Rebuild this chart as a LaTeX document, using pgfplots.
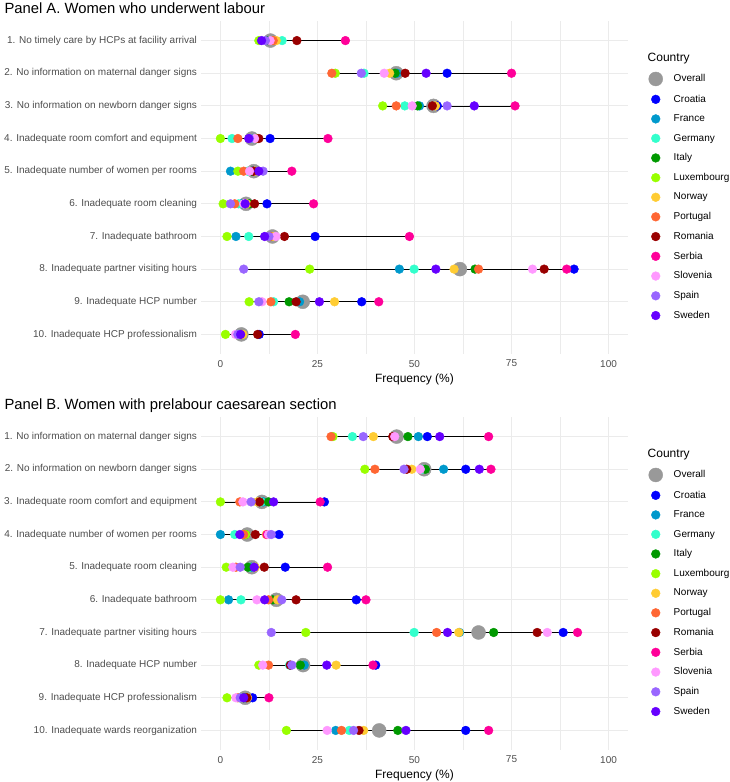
\documentclass[border=0pt]{standalone}
\usepackage{pgfplots}
\pgfplotsset{compat=1.18}
\usepackage{pgfplotstable}
\usepackage{fontspec}
\setmainfont{Liberation Sans}

\definecolor{cOverall}{HTML}{999999}
\definecolor{cCroatia}{HTML}{0000FF}
\definecolor{cFrance}{HTML}{0099CC}
\definecolor{cGermany}{HTML}{33FFCC}
\definecolor{cItaly}{HTML}{009900}
\definecolor{cLuxembourg}{HTML}{99FF00}
\definecolor{cNorway}{HTML}{FFCC33}
\definecolor{cPortugal}{HTML}{FF6633}
\definecolor{cRomania}{HTML}{990000}
\definecolor{cSerbia}{HTML}{FF0099}
\definecolor{cSlovenia}{HTML}{FF99FF}
\definecolor{cSpain}{HTML}{9966FF}
\definecolor{cSweden}{HTML}{6600FF}
\definecolor{gridc}{HTML}{EBEBEB}
\definecolor{txtgray}{HTML}{4D4D4D}

\pgfplotstableread{
row Overall Croatia France Germany Italy Luxembourg Norway Portugal Romania Serbia Slovenia Spain Sweden
1 12.9 12.5 12.0 15.9 12.3 9.9 14.4 13.6 19.7 32.2 12.8 11.6 10.6
2 45.3 58.4 45.5 37.0 45.0 29.6 43.6 28.7 47.6 75.0 42.2 36.3 53.0
3 54.9 55.9 51.3 47.5 50.8 41.8 55.4 45.3 54.6 75.9 49.4 58.4 65.4
4 8.1 12.8 8.5 3.0 9.0 0.0 9.2 4.5 9.9 27.7 8.8 7.5 7.3
5 8.6 8.3 2.6 7.0 8.0 4.5 8.8 6.0 8.5 18.4 7.5 11.0 9.9
6 6.6 12.0 5.5 4.7 7.5 0.7 6.8 3.7 8.8 24.0 6.0 2.6 6.4
7 13.4 24.4 4.0 7.3 13.0 1.7 13.6 12.8 16.5 48.7 14.3 12.5 11.4
8 61.7 91.1 46.1 49.9 65.6 23.0 60.2 66.5 83.4 89.2 80.4 6.0 55.5
9 21.2 36.4 20.4 13.7 17.7 7.4 29.4 13.0 19.5 40.8 10.7 9.9 25.5
10 5.4 10.0 5.0 4.5 5.5 1.3 5.8 5.2 9.6 19.3 3.9 4.5 5.2
}\dataA

\pgfplotstableread{
row Overall Croatia France Germany Italy Luxembourg Norway Portugal Romania Serbia Slovenia Spain Sweden
1 45.4 53.3 51.0 34.0 48.3 29.0 39.4 28.5 44.4 69.1 44.9 36.8 56.5
2 52.5 63.2 57.5 52.0 52.8 37.2 49.3 39.8 48.0 69.7 51.5 47.3 66.7
3 10.7 26.8 11.0 10.5 12.4 0.0 9.5 5.0 10.1 25.7 5.8 7.9 13.7
4 6.9 15.1 0.0 3.7 6.5 6.5 11.8 6.0 9.0 12.0 12.4 13.1 5.0
5 8.1 16.7 8.0 7.5 7.1 1.5 9.0 4.0 11.3 27.6 3.2 5.1 8.7
6 14.4 35.0 2.1 5.3 13.5 0.0 14.7 12.4 19.5 37.5 9.4 15.8 11.4
7 66.5 88.3 61.6 49.9 70.4 22.0 61.4 55.7 81.6 92.0 84.2 13.1 58.5
8 21.3 40.0 21.6 17.8 20.6 9.9 29.8 12.4 18.0 39.3 10.9 18.4 27.4
9 6.4 8.3 6.5 5.0 6.0 1.7 7.0 4.5 6.8 12.5 4.0 5.1 6.0
10 40.9 63.2 29.7 33.2 45.7 17.0 36.9 31.2 35.7 69.1 27.5 34.3 47.8
}\dataB

\pgfplotsset{
  dumbbell/.style={
    scale only axis, width=427pt, height=333pt,
    xmin=-5, xmax=105, ymin=0.4, ymax=10.6, y dir=reverse,
    xtick={0,25,50,75,100}, minor xtick={12.5,37.5,62.5,87.5},
    ytick={1,2,3,4,5,6,7,8,9,10},
    grid=both,
    major grid style={color=gridc, line width=0.9pt},
    minor grid style={color=gridc, line width=0.45pt},
    axis line style={draw=none}, major tick length=0pt, minor tick length=0pt,
    tick style={draw=none},
    /pgf/number format/assume math mode=true,
    ticklabel style={font=\fontsize{10}{12}\selectfont, text=txtgray},
    yticklabel style={xshift=-0.5pt},
    xticklabel style={yshift=-2.5pt},
    xlabel={Frequency (\%)},
    xlabel style={font=\fontsize{12}{14}\selectfont, at={(0.5,0)}, anchor=base, yshift=-28pt},
    title style={font=\fontsize{14.8}{17}\selectfont, at={(0,1)}, anchor=base west, xshift=-200pt, yshift=2pt},
    legend style={draw=none, fill=none, at={(1,0.5)}, anchor=west, xshift=16pt, yshift=1pt,
      font=\fontsize{10}{12}\selectfont, row sep=7pt,
      /tikz/every odd column/.append style={column sep=9pt}},
    legend cell align=left,
    clip=false,
  },
  seg/.style={black, line width=0.7pt, forget plot},
}
\newcommand\pts[3]{\addplot[only marks, mark=*, mark size=4.4pt, color=c#2, mark options={draw=none, fill=c#2}] table[x=#2, y=row]{#1};\addlegendentry{#3}}

\begin{document}
\begin{tikzpicture}
\useasboundingbox (-201pt,-428pt) rectangle (528pt,354pt);
% ---------------- Panel A
\begin{axis}[dumbbell, title={Panel A. Women who underwent labour},
  yticklabels={1. No timely care by HCPs at facility arrival,
    2. No information on maternal danger signs,
    3. No information on newborn danger signs,
    4. Inadequate room comfort and equipment,
    5. Inadequate number of women per rooms,
    6. Inadequate room cleaning,
    7. Inadequate bathroom,
    8. Inadequate partner visiting hours,
    9. Inadequate HCP number,
    10. Inadequate HCP professionalism}]
\addlegendimage{empty legend}\addlegendentry{\hspace*{-26pt}\fontsize{12}{14}\selectfont Country}
\addplot[seg] coordinates {(9.9,1) (32.2,1)};
\addplot[seg] coordinates {(28.7,2) (75.0,2)};
\addplot[seg] coordinates {(41.8,3) (75.9,3)};
\addplot[seg] coordinates {(0.0,4) (27.7,4)};
\addplot[seg] coordinates {(2.6,5) (18.4,5)};
\addplot[seg] coordinates {(0.7,6) (24.0,6)};
\addplot[seg] coordinates {(1.7,7) (48.7,7)};
\addplot[seg] coordinates {(6.0,8) (91.1,8)};
\addplot[seg] coordinates {(7.4,9) (40.8,9)};
\addplot[seg] coordinates {(1.3,10) (19.3,10)};
\addplot[only marks, mark=*, mark size=7pt, color=cOverall, mark options={draw=none, fill=cOverall}] table[x=Overall, y=row]{\dataA};
\addlegendentry{Overall}
\pts{\dataA}{Croatia}{Croatia}
\pts{\dataA}{France}{France}
\pts{\dataA}{Germany}{Germany}
\pts{\dataA}{Italy}{Italy}
\pts{\dataA}{Luxembourg}{Luxembourg}
\pts{\dataA}{Norway}{Norway}
\pts{\dataA}{Portugal}{Portugal}
\pts{\dataA}{Romania}{Romania}
\pts{\dataA}{Serbia}{Serbia}
\pts{\dataA}{Slovenia}{Slovenia}
\pts{\dataA}{Spain}{Spain}
\pts{\dataA}{Sweden}{Sweden}
\end{axis}
% ---------------- Panel B
\begin{axis}[dumbbell, at={(0pt,-396pt)}, title={Panel B. Women with prelabour caesarean section},
  yticklabels={1. No information on maternal danger signs,
    2. No information on newborn danger signs,
    3. Inadequate room comfort and equipment,
    4. Inadequate number of women per rooms,
    5. Inadequate room cleaning,
    6. Inadequate bathroom,
    7. Inadequate partner visiting hours,
    8. Inadequate HCP number,
    9. Inadequate HCP professionalism,
    10. Inadequate wards reorganization}]
\addlegendimage{empty legend}\addlegendentry{\hspace*{-26pt}\fontsize{12}{14}\selectfont Country}
\addplot[seg] coordinates {(28.5,1) (69.1,1)};
\addplot[seg] coordinates {(37.2,2) (69.7,2)};
\addplot[seg] coordinates {(0.0,3) (26.8,3)};
\addplot[seg] coordinates {(0.0,4) (15.1,4)};
\addplot[seg] coordinates {(1.5,5) (27.6,5)};
\addplot[seg] coordinates {(0.0,6) (37.5,6)};
\addplot[seg] coordinates {(13.1,7) (92.0,7)};
\addplot[seg] coordinates {(9.9,8) (40.0,8)};
\addplot[seg] coordinates {(1.7,9) (12.5,9)};
\addplot[seg] coordinates {(17.0,10) (69.1,10)};
\addplot[only marks, mark=*, mark size=7pt, color=cOverall, mark options={draw=none, fill=cOverall}] table[x=Overall, y=row]{\dataB};
\addlegendentry{Overall}
\pts{\dataB}{Croatia}{Croatia}
\pts{\dataB}{France}{France}
\pts{\dataB}{Germany}{Germany}
\pts{\dataB}{Italy}{Italy}
\pts{\dataB}{Luxembourg}{Luxembourg}
\pts{\dataB}{Norway}{Norway}
\pts{\dataB}{Portugal}{Portugal}
\pts{\dataB}{Romania}{Romania}
\pts{\dataB}{Serbia}{Serbia}
\pts{\dataB}{Slovenia}{Slovenia}
\pts{\dataB}{Spain}{Spain}
\pts{\dataB}{Sweden}{Sweden}
\end{axis}
\end{tikzpicture}
\end{document}
